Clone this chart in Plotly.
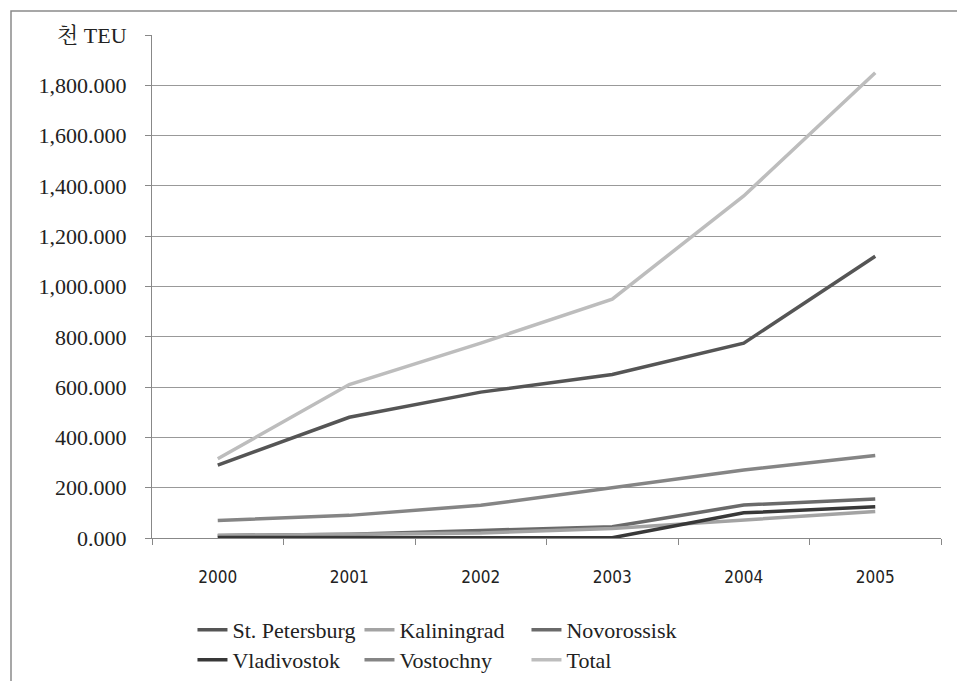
import plotly.graph_objects as go

years = ["2000", "2001", "2002", "2003", "2004", "2005"]
st_petersburg = [290, 480, 580, 650, 775, 1120]
kaliningrad = [10, 14, 20, 38, 70, 105]
novorossisk = [10, 15, 30, 45, 131, 155]
vladivostok = [2, 2, 3, 1, 100, 124]
vostochny = [70, 90, 130, 200, 270, 328]
total = [315, 610, 775, 950, 1360, 1850]

series = [
    ("St. Petersburg", st_petersburg, "#555555", "legend"),
    ("Kaliningrad", kaliningrad, "#a3a3a3", "legend"),
    ("Novorossisk", novorossisk, "#6a6a6a", "legend"),
    ("Vladivostok", vladivostok, "#383838", "legend2"),
    ("Vostochny", vostochny, "#858585", "legend2"),
    ("Total", total, "#bdbdbd", "legend2"),
]

tick_vals = [0, 200, 400, 600, 800, 1000, 1200, 1400, 1600, 1800, 2000]
tick_text = ["0.000", "200.000", "400.000", "600.000", "800.000", "1,000.000",
             "1,200.000", "1,400.000", "1,600.000", "1,800.000", "천 TEU"]

SERIF = "Liberation Serif, DejaVu Serif, Noto Serif CJK KR, Noto Sans CJK KR"

fig = go.Figure()
draw_order = [5, 0, 4, 2, 1, 3]
for i in draw_order:
    name, vals, col, lg = series[i]
    fig.add_trace(go.Scatter(
        x=years, y=vals, name=name, mode="lines",
        line=dict(color=col, width=3.5), legend=lg,
        legendrank=i + 1,
    ))

legend_common = dict(
    orientation="h", x=0.0513, xanchor="left", yanchor="middle",
    yref="container", entrywidth=122, entrywidthmode="pixels",
    traceorder="normal", font=dict(family=SERIF, size=22, color="#222222"),
    itemwidth=30, bgcolor="rgba(0,0,0,0)",
)

fig.update_layout(
    width=957, height=681,
    margin=dict(l=152, r=16, t=35, b=143, autoexpand=False),
    paper_bgcolor="white", plot_bgcolor="white",
    font=dict(family=SERIF, size=16, color="#222222"),
    xaxis=dict(
        type="category", showgrid=False, showline=True, linecolor="#888888",
        linewidth=1, ticks="outside", ticklen=6, tickcolor="#888888",
        tickson="boundaries", ticklabelstandoff=24, range=[-0.5, 5.5],
        tickfont=dict(family="DejaVu Sans Condensed, Liberation Sans", size=17),
    ),
    yaxis=dict(
        range=[0, 2000], tickvals=tick_vals, ticktext=tick_text,
        showgrid=True, gridcolor="#999999", gridwidth=1,
        showline=True, linecolor="#888888", linewidth=1,
        ticks="outside", ticklen=6, tickcolor="#888888",
        ticklabelstandoff=14, zeroline=False,
        tickfont=dict(family=SERIF, size=22),
    ),
    legend=dict(legend_common, y=1 - 630 / 681),
    legend2=dict(legend_common, y=1 - 660 / 681),
    showlegend=True,
    shapes=[dict(
        type="rect", xref="paper", yref="paper",
        x0=(11 - 152) / 789, x1=(970 - 152) / 789,
        y0=-0.35, y1=1 + (35 - 11) / 503,
        line=dict(color="#8a8a8a", width=1.5), layer="below",
    )],
)

fig.write_html("out.html")
